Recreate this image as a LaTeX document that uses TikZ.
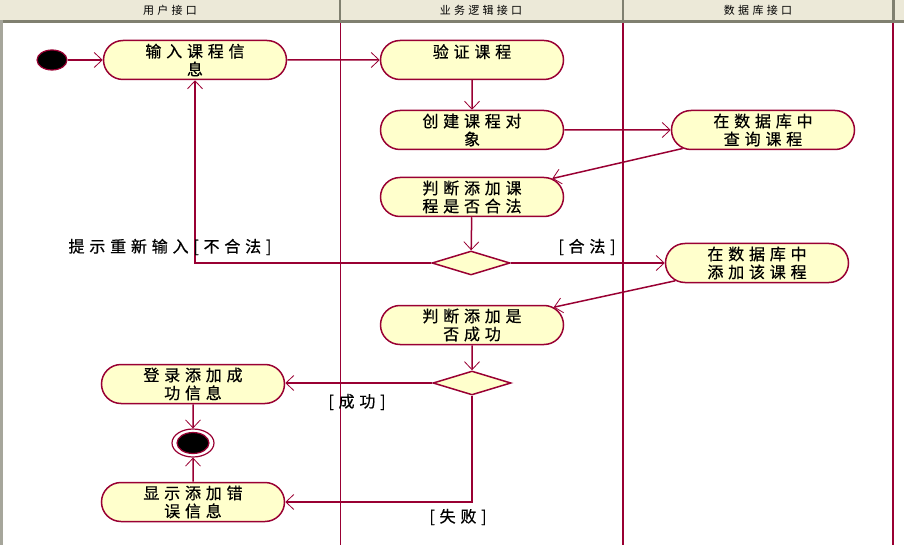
\documentclass[tikz,border=0pt]{standalone}
\usepackage{fontspec}
\usepackage{tikz}
\usetikzlibrary{shapes.misc,shapes.geometric,arrows.meta}
\newfontfamily\cjkfont[LetterSpace=30,FakeBold=0.6]{Noto Sans CJK SC}
\newfontfamily\cjkhead[LetterSpace=30]{Noto Sans CJK SC}
\definecolor{umlred}{RGB}{153,0,51}
\definecolor{umlyellow}{RGB}{255,255,204}
\definecolor{headbg}{RGB}{236,233,216}
\definecolor{headline}{RGB}{128,128,112}

\begin{document}
\begin{tikzpicture}[x=1pt,y=-1pt,
  act/.style={rounded rectangle, draw=umlred, fill=umlyellow, line width=1.5pt,
    minimum width=185, minimum height=39, inner sep=1pt, align=center,
    font=\cjkfont\fontsize{16}{18}\selectfont},
  choice/.style={diamond, draw=umlred, fill=umlyellow, line width=1.5pt,
    minimum width=78, minimum height=24, inner sep=0pt},
  flow/.style={draw=umlred, line width=1.5pt,
    -{Straight Barb[length=8pt,width=15pt,line width=0.8pt]}},
  guard/.style={font=\cjkfont\fontsize{16}{18}\selectfont, inner sep=0pt},
  lane/.style={draw=umlred},
  head/.style={font=\cjkhead\fontsize{11}{12}\selectfont}]

  \useasboundingbox (0,0) rectangle (904,545);

  % swimlane header
  \fill[headbg] (0,0) rectangle (904,20);
  \fill[headline] (0,20) rectangle (904,23);
  \fill[headline!70] (0,20) rectangle (3,545);
  \fill[headline] (339,0) rectangle (341,20);
  \fill[headline] (622,0) rectangle (624,20);
  \fill[headline] (892,0) rectangle (895,20);
  \node[head] (h1) at (170,10) {用户接口};
  \node[head] (h2) at (481,10) {业务逻辑接口};
  \node[head] (h3) at (758,10) {数据库接口};

  % lanes
  \draw[lane, line width=1pt] (340,23) -- (340,545);
  \draw[lane, line width=2pt] (623,23) -- (623,545);
  \draw[lane, line width=1.5pt] (893,23) -- (893,545);

  % activities
  \node[ellipse, draw=umlred, fill=black, line width=1.2pt,
    minimum width=30, minimum height=20] (start) at (52,60) {};
  \node[act] (input) at (195,60) {输入课程信\\息};
  \node[act] (verify) at (472,60) {验证课程\\~};
  \node[act] (create) at (472,130) {创建课程对\\象};
  \node[act] (query) at (763,130) {在数据库中\\查询课程};
  \node[act] (judge) at (472,197) {判断添加课\\程是否合法};
  \node[choice] (dec1) at (471,263) {};
  \node[act] (add) at (757,263) {在数据库中\\添加该课程};
  \node[act] (check) at (472,325) {判断添加是\\否成功};
  \node[choice] (dec2) at (472,383) {};
  \node[act] (succ) at (193,384) {登录添加成\\功信息};
  \node[ellipse, draw=umlred, line width=1.2pt,
    minimum width=42, minimum height=28] (end) at (193,443) {};
  \node[ellipse, draw=umlred, fill=black, line width=1.2pt,
    minimum width=32, minimum height=21] (endin) at (193,443) {};
  \node[act] (fail) at (193,502) {显示添加错\\误信息};

  % transitions
  \draw[flow] (start) -- (input);
  \draw[flow] (input) -- (verify);
  \draw[flow] (verify) -- (create);
  \draw[flow] (create) -- (query);
  \draw[flow] (query) -- (judge);
  \draw[flow] (judge) -- (dec1);
  \draw[flow] (dec1.west) -| (input.south);
  \draw[flow] (dec1.east) -- (add.west);
  \draw[flow] (add) -- (check);
  \draw[flow] (check) -- (dec2);
  \draw[flow] (dec2.west) -- (succ.east |- dec2.west);
  \draw[flow] (succ) -- (end);
  \draw[flow] (dec2.south) |- (fail.east);
  \draw[flow] (fail) -- (end);

  % guards
  \node[guard] (g1) at (170,247) {提示重新输入[不合法]};
  \node[guard] (g2) at (587,247) {[合法]};
  \node[guard] (g3) at (357,402) {[成功]};
  \node[guard] (g4) at (458,517) {[失败]};
\end{tikzpicture}
\end{document}
